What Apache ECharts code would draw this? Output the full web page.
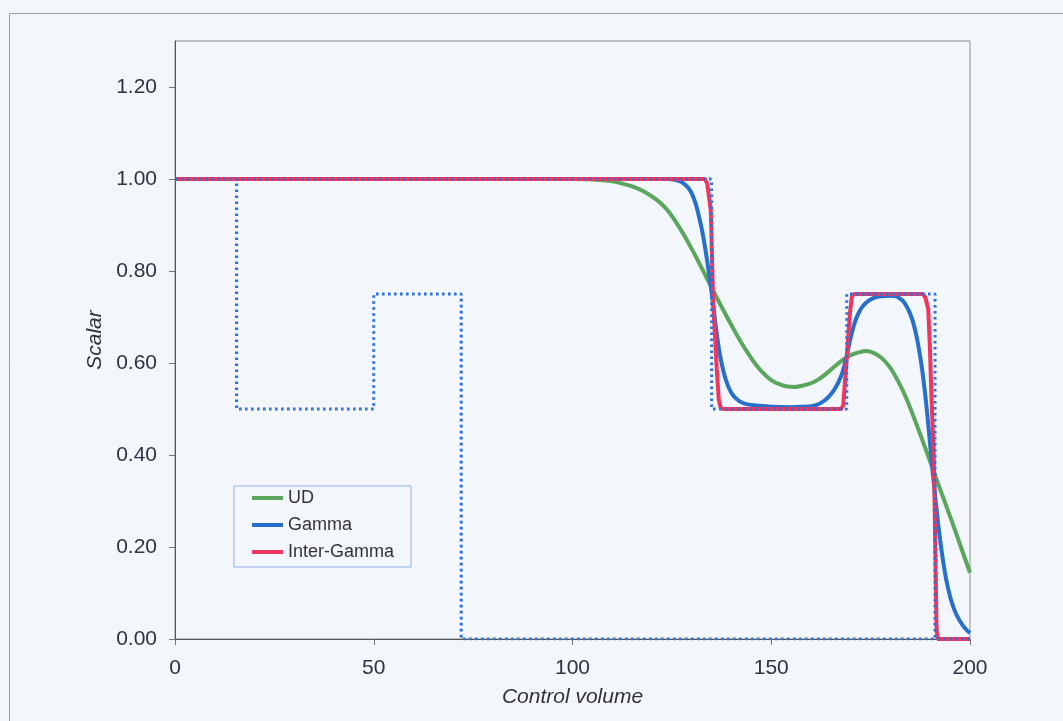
<!DOCTYPE html>
<html>
<head>
<meta charset="utf-8">
<script src="https://cdn.jsdelivr.net/npm/echarts@6/dist/echarts.min.js"></script>
<style>
  html, body { margin: 0; padding: 0; background: #f3f6fb; }
  #chart { width: 1063px; height: 721px; }
</style>
</head>
<body>
<div id="chart"></div>
<script>
// tick labels
const xTicks = [0, 50, 100, 150, 200];
const yTicks = [0, 0.2, 0.4, 0.6, 0.8, 1.0, 1.2];

// [control volume, scalar]
const udData = [
    [0, 1], [100, 1], [105, 0.999], [110, 0.995], [112.5, 0.99], [115, 0.984],
    [117.5, 0.975], [120, 0.962], [122, 0.949], [124, 0.931], [126, 0.907],
    [128, 0.879], [130, 0.848], [132, 0.815], [134, 0.781], [136, 0.747],
    [138, 0.714], [140, 0.682], [142, 0.651], [144, 0.623], [146, 0.598],
    [148, 0.578], [150, 0.563], [152, 0.554], [154, 0.549], [156, 0.548],
    [158, 0.551], [160, 0.556], [162, 0.565], [164, 0.578], [166, 0.593],
    [168, 0.607], [170, 0.617], [172, 0.623], [174, 0.626], [176, 0.621],
    [178, 0.609], [180, 0.589], [182, 0.559], [184, 0.523], [186, 0.479],
    [188, 0.433], [190, 0.385], [192, 0.337], [194, 0.29], [196, 0.242],
    [198, 0.193], [200, 0.144]
];

const gammaData = [
    [0, 1], [124, 1], [126, 0.998], [127, 0.995], [128, 0.99], [129, 0.982],
    [130, 0.969], [131, 0.946], [132, 0.912], [133, 0.87], [134, 0.815],
    [135, 0.753], [136, 0.683], [137, 0.622], [138, 0.581], [139, 0.553],
    [140, 0.535], [141, 0.524], [142, 0.517], [144, 0.51], [147, 0.507],
    [150, 0.505], [155, 0.504], [158, 0.505], [160, 0.506], [161, 0.508],
    [162, 0.511], [163, 0.516], [164, 0.523], [165, 0.532], [166, 0.544],
    [167, 0.56], [168, 0.582], [169, 0.616], [170, 0.656], [171, 0.688],
    [172, 0.709], [173, 0.723], [174, 0.732], [175, 0.738], [176, 0.742],
    [177.5, 0.745], [180, 0.746], [181.5, 0.745], [182, 0.742], [183, 0.736],
    [184, 0.724], [185, 0.706], [186, 0.679], [187, 0.638], [188, 0.583],
    [189, 0.51], [190, 0.42], [191, 0.33], [192, 0.25], [193, 0.183],
    [194, 0.13], [195, 0.092], [196, 0.065], [197, 0.046], [198, 0.032],
    [199, 0.021], [200, 0.013]
];

const interGammaData = [
    [0, 1], [133.3, 1], [133.9, 0.99], [134.8, 0.93], [135.4, 0.73], [136.3, 0.586],
    [136.8, 0.52], [137.3, 0.502], [138, 0.5], [167.6, 0.5], [168.1, 0.508],
    [168.9, 0.6], [169.8, 0.709], [170.3, 0.745], [170.9, 0.75], [188.2, 0.75],
    [188.8, 0.742], [189.5, 0.717], [189.9, 0.637], [190.3, 0.528], [190.8, 0.419],
    [191.0, 0.346], [191.6, 0.02], [191.9, 0], [200, 0]
];

// dotted step profiles: initial and exact
const initialData = [
    [0, 1], [15.5, 1], [15.5, 0.5], [50, 0.5], [50, 0.75], [72, 0.75], [72, 0], [200, 0]
];
const exactData = [
    [0, 1], [135, 1], [135, 0.5], [169, 0.5], [169, 0.75], [191.2, 0.75], [191.2, 0], [200, 0]
];

const chart = echarts.init(document.getElementById('chart'));

const font = '"Liberation Sans", Arial, sans-serif';
const dotStyle = { color: '#2a72d8', width: 3, type: [2.6, 3.4] };

const option = {
    backgroundColor: '#f3f6fb',
    animation: false,
    textStyle: { fontFamily: font },
    graphic: [{
        type: 'rect',
        shape: { x: 9.5, y: 13.5, width: 1200, height: 900 },
        style: { fill: 'none', stroke: '#9aa0a6', lineWidth: 1 },
        silent: true
    }],
    grid: {
        left: 175, right: 93, top: 41, bottom: 82,
        show: true, borderColor: '#8e8e8e', borderWidth: 1,
        backgroundColor: '#f3f6fb'
    },
    legend: {
        data: ['UD', 'Gamma', 'Inter-Gamma'],
        orient: 'vertical',
        left: 234, top: 486,
        padding: [3, 17, 6, 18],
        itemGap: 9,
        itemWidth: 31, itemHeight: 4,
        icon: 'rect',
        borderColor: '#8fb1e5', borderWidth: 1,
        textStyle: { fontSize: 18, color: '#333', fontFamily: font }
    },
    xAxis: {
        type: 'value',
        min: 0, max: 200, interval: 50,
        name: 'Control volume',
        nameLocation: 'middle', nameGap: 48,
        nameTextStyle: { fontSize: 21, fontStyle: 'italic', color: '#333', fontFamily: font },
        axisLine: { lineStyle: { color: '#555', width: 1 } },
        axisTick: { show: true, length: 6, inside: false, lineStyle: { color: '#777' } },
        axisLabel: { fontSize: 21, color: '#2b3345', margin: 19,
            formatter: v => xTicks.indexOf(v) >= 0 ? String(v) : '' },
        splitLine: { show: false }
    },
    yAxis: {
        type: 'value',
        min: 0, max: 1.3, interval: 0.2,
        name: 'Scalar',
        nameLocation: 'middle', nameGap: 69,
        nameTextStyle: { fontSize: 21, fontStyle: 'italic', color: '#333', fontFamily: font },
        axisLine: { show: true, lineStyle: { color: '#555', width: 1 } },
        axisTick: { show: true, length: 6, inside: false, lineStyle: { color: '#777' } },
        axisLabel: { fontSize: 21, color: '#2b3345', margin: 18, showMaxLabel: false,
            formatter: v => yTicks.some(t => Math.abs(t - v) < 1e-9) ? v.toFixed(2) : '' },
        splitLine: { show: false }
    },
    series: [
        {
            name: 'UD', type: 'line', data: udData, showSymbol: false, smooth: 0.3,
            lineStyle: { color: '#5aa65c', width: 4 }, itemStyle: { color: '#5aa65c' }
        },
        {
            name: 'Gamma', type: 'line', data: gammaData, showSymbol: false, smooth: 0.3,
            lineStyle: { color: '#2670cc', width: 4 }, itemStyle: { color: '#2670cc' }
        },
        {
            name: 'Inter-Gamma', type: 'line', data: interGammaData, showSymbol: false,
            lineStyle: { color: '#f2355c', width: 4 }, itemStyle: { color: '#f2355c' }
        },
        {
            name: 'Initial', type: 'line', data: initialData, showSymbol: false,
            lineStyle: dotStyle
        },
        {
            name: 'Exact', type: 'line', data: exactData, showSymbol: false,
            lineStyle: dotStyle
        }
    ]
};

chart.setOption(option);
</script>
</body>
</html>
